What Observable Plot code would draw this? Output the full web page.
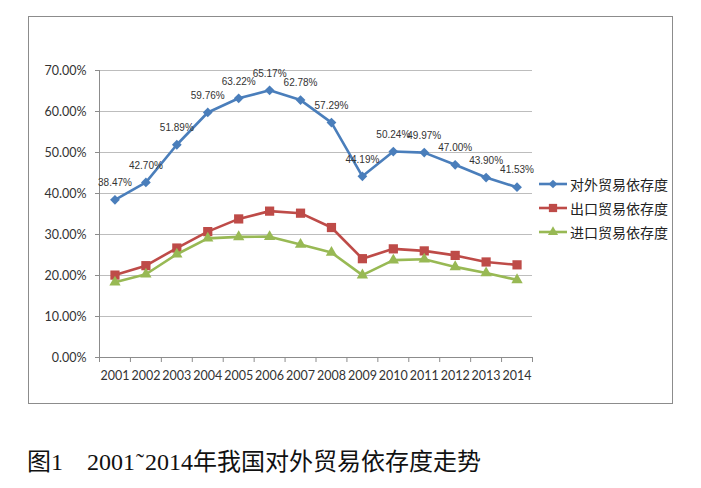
<!DOCTYPE html>
<html>
<head>
<meta charset="utf-8">
<script src="https://cdn.jsdelivr.net/npm/d3@7"></script>
<script src="https://cdn.jsdelivr.net/npm/@observablehq/plot@0.6"></script>
<style>
  html, body { margin: 0; padding: 0; background: #fff; width: 701px; height: 488px; overflow: hidden; }
  #frame { position: absolute; left: 28px; top: 16px; width: 643px; height: 386px; border: 1px solid #8c8c8c; }
  #chart { position: absolute; left: 0; top: 0; }
  #legend { position: absolute; left: 538px; top: 172px; font-family: "Noto Sans CJK SC", sans-serif; font-size: 14px; color: #222; }
  #legend .row { height: 24px; display: flex; align-items: center; }
  #legend svg { margin-right: 2px; }
  #caption { position: absolute; left: 27px; top: 442px; font-family: "Liberation Serif", "Noto Sans CJK SC", serif; font-size: 24px; color: #111; white-space: pre; }
</style>
</head>
<body>
<div id="frame"></div>
<div id="chart"></div>
<div id="legend"></div>
<div id="caption"></div>
<script>
const years = [2001, 2002, 2003, 2004, 2005, 2006, 2007, 2008, 2009, 2010, 2011, 2012, 2013, 2014];
const totalDep  = [0.3847, 0.4270, 0.5189, 0.5976, 0.6322, 0.6517, 0.6278, 0.5729, 0.4419, 0.5024, 0.4997, 0.4700, 0.4390, 0.4153];
const exportDep = [0.2010, 0.2240, 0.2670, 0.3070, 0.3380, 0.3570, 0.3520, 0.3170, 0.2410, 0.2650, 0.2600, 0.2490, 0.2330, 0.2260];
const importDep = [0.1837, 0.2030, 0.2519, 0.2906, 0.2942, 0.2947, 0.2758, 0.2559, 0.2009, 0.2374, 0.2397, 0.2210, 0.2060, 0.1893];
const yTicks = [0, 0.1, 0.2, 0.3, 0.4, 0.5, 0.6, 0.7];
const seriesNames = ["对外贸易依存度", "出口贸易依存度", "进口贸易依存度"];
const seriesColors = ["#4A7EBB", "#BE4B48", "#98B954"];
const seriesSymbols = ["diamond2", "square", "triangle"];
const seriesR = [4.4, 5.2, 4.2];
const captionParts = ["图1    2001", "˜", "2014年我国对外贸易依存度走势"];

const xDomain = [years[0] - 0.5, years[years.length - 1] + 0.5];
const boundaries = years.map(y => y - 0.5).concat([years[years.length - 1] + 0.5]);

const rows = [];
[totalDep, exportDep, importDep].forEach((vals, s) => {
  years.forEach((yr, i) => rows.push({series: seriesNames[s], year: yr, value: vals[i]}));
});
const totalRows = rows.filter(d => d.series === seriesNames[0]);

const marks = [
  Plot.gridY(yTicks.slice(1), {stroke: "#bdbdbd", strokeOpacity: 1, strokeWidth: 1}),
  Plot.ruleX([xDomain[0]], {stroke: "#8c8c8c"}),
  Plot.ruleY([0], {stroke: "#8c8c8c"}),
  Plot.axisY(yTicks, {label: null, tickSize: 4, tickPadding: 9, stroke: "#8c8c8c", fill: "#333", fontSize: 12.5, fontFamily: "Lato, 'Open Sans', sans-serif", tickFormat: d3.format(".2%")}),
  Plot.axisX(boundaries, {label: null, tickSize: 5, stroke: "#8c8c8c", tickFormat: () => ""}),
  Plot.axisX(years, {label: null, tickSize: 0, tickPadding: 14, fill: "#333", fontSize: 12.5, fontFamily: "Lato, 'Open Sans', sans-serif", tickFormat: d => String(d)})
];
seriesNames.forEach((name, s) => {
  const data = rows.filter(d => d.series === name);
  marks.push(Plot.line(data, {x: "year", y: "value", stroke: seriesColors[s], strokeWidth: 2.6}));
  marks.push(Plot.dot(data, {x: "year", y: "value", fill: seriesColors[s], symbol: () => seriesSymbols[s], r: seriesR[s], stroke: "none"}));
});
marks.push(Plot.text(totalRows, {x: "year", y: "value", text: d => d3.format(".2%")(d.value), dy: -17, fill: "#333", fontSize: 10, fontFamily: "'Liberation Sans', sans-serif"}));

const chart = Plot.plot({
  width: 701,
  height: 410,
  marginLeft: 99,
  marginRight: 169,
  marginTop: 70,
  marginBottom: 53,
  x: {type: "linear", domain: xDomain, axis: null, label: null},
  y: {type: "linear", domain: [0, 0.7], axis: null, label: null},
  symbol: {type: "identity"},
  style: {background: "transparent", overflow: "visible"},
  marks
});
document.getElementById("chart").appendChild(chart);

// legend
const legend = document.getElementById("legend");
seriesNames.forEach((name, s) => {
  const row = document.createElement("div");
  row.className = "row";
  const sym = d3.symbol(d3["symbol" + {diamond2: "Diamond2", square: "Square", triangle: "Triangle"}[seriesSymbols[s]]], Math.PI * seriesR[s] * seriesR[s] * 0.8)();
  row.innerHTML = `<svg width="30" height="14" viewBox="0 0 30 14"><line x1="1" x2="29" y1="7" y2="7" stroke="${seriesColors[s]}" stroke-width="2.6"/><path d="${sym}" transform="translate(15,7)" fill="${seriesColors[s]}"/></svg><span>${name}</span>`;
  legend.appendChild(row);
});
const cap = document.getElementById("caption");
cap.appendChild(document.createTextNode(captionParts[0]));
const tl = document.createElement("span");
tl.style.margin = "0 1px";
tl.textContent = captionParts[1];
cap.appendChild(tl);
cap.appendChild(document.createTextNode(captionParts[2]));
</script>
</body>
</html>
